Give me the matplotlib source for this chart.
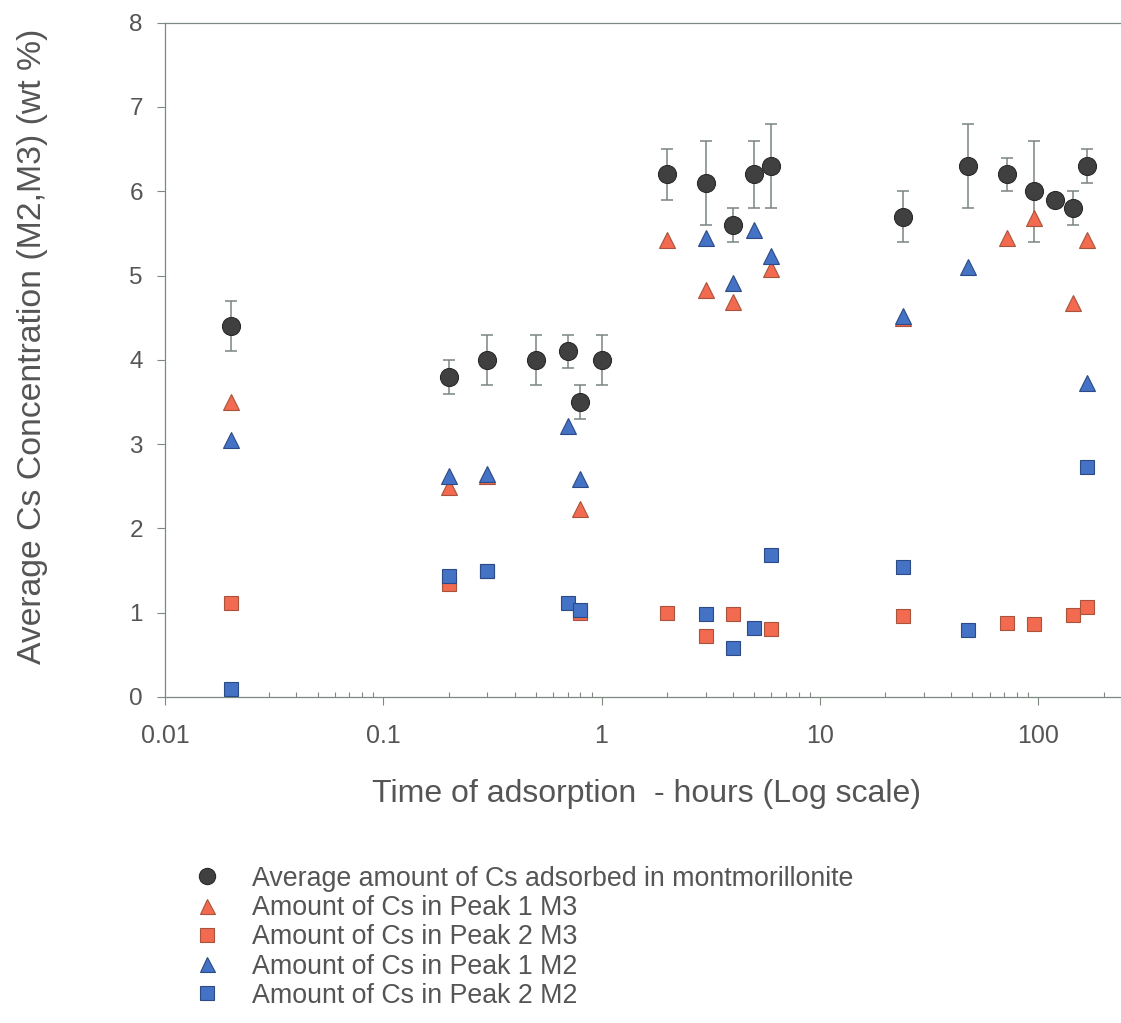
import matplotlib
matplotlib.use("Agg")
import matplotlib.pyplot as plt
from matplotlib.ticker import FixedLocator, FuncFormatter, LogLocator, NullFormatter

plt.rcParams['font.family'] = ['Liberation Sans', 'DejaVu Sans']

# Average Cs adsorbed in montmorillonite (wt %) with error bars
t_avg = [0.02, 0.2, 0.3, 0.5, 0.7, 0.8, 1, 2, 3, 4, 5, 6, 24, 48, 72, 96, 120, 144, 168]
cs_avg = [4.4, 3.8, 4.0, 4.0, 4.1, 3.5, 4.0, 6.2, 6.1, 5.6, 6.2, 6.3, 5.7, 6.3, 6.2, 6.0, 5.9, 5.8, 6.3]
cs_err = [0.3, 0.2, 0.3, 0.3, 0.2, 0.2, 0.3, 0.3, 0.5, 0.2, 0.4, 0.5, 0.3, 0.5, 0.2, 0.6, 0.0, 0.2, 0.2]

# Sample M3
t_m3 = [0.02, 0.2, 0.3, 0.8, 2, 3, 4, 6, 24, 72, 96, 144, 168]
peak1_m3 = [3.50, 2.49, 2.62, 2.23, 5.42, 4.83, 4.69, 5.08, 4.50, 5.45, 5.68, 4.68, 5.42]
peak2_m3 = [1.11, 1.34, 1.49, 1.00, 1.00, 0.72, 0.99, 0.81, 0.96, 0.88, 0.87, 0.97, 1.07]

# Sample M2
t_m2 = [0.02, 0.2, 0.3, 0.7, 0.8, 3, 4, 5, 6, 24, 48, 168]
peak1_m2 = [3.05, 2.62, 2.64, 3.21, 2.59, 5.44, 4.91, 5.54, 5.23, 4.52, 5.10, 3.73]
peak2_m2 = [0.09, 1.43, 1.50, 1.12, 1.03, 0.99, 0.58, 0.82, 1.68, 1.54, 0.79, 2.73]

x_ticks = [0.01, 0.1, 1, 10, 100]
y_ticks = [0, 1, 2, 3, 4, 5, 6, 7, 8]

labels = [
    "Average amount of Cs adsorbed in montmorillonite",
    "Amount of Cs in Peak 1 M3",
    "Amount of Cs in Peak 2 M3",
    "Amount of Cs in Peak 1 M2",
    "Amount of Cs in Peak 2 M2",
]

text_col = '#555555'
axis_col = '#7d8a82'
orange, orange_edge = '#F26A4F', '#A9523C'
blue, blue_edge = '#4472C4', '#2C4A85'
dark, dark_edge = '#404040', '#2a2a2a'

fig = plt.figure(figsize=(11.21, 10.23), dpi=100)
ax = fig.add_axes([0.1472, 0.3187, 0.8528, 0.6591])

circle_style = dict(marker='o', ms=13, mfc=dark, mec=dark_edge, mew=0.8)
ax.errorbar(t_avg, cs_avg, yerr=cs_err, fmt='none', ecolor='#7a857e',
            elinewidth=1.1, capsize=4.3, capthick=1.1, zorder=3)
ax.plot(t_avg, cs_avg, ls='none', label=labels[0], zorder=3.5, **circle_style)
ax.plot(t_m3, peak1_m3, '^', ms=12, mfc=orange, mec=orange_edge, mew=0.8,
        ls='none', label=labels[1], zorder=4)
ax.plot(t_m3, peak2_m3, 's', ms=10.5, mfc=orange, mec=orange_edge, mew=0.8,
        ls='none', label=labels[2], zorder=4)
ax.plot(t_m2, peak1_m2, '^', ms=12, mfc=blue, mec=blue_edge, mew=0.8,
        ls='none', label=labels[3], zorder=5)
ax.plot(t_m2, peak2_m2, 's', ms=10.5, mfc=blue, mec=blue_edge, mew=0.8,
        ls='none', label=labels[4], zorder=5)

ax.set_xscale('log')
ax.set_xlim(0.01, 240)
ax.set_ylim(0, 8)

ax.xaxis.set_major_locator(FixedLocator(x_ticks))
ax.xaxis.set_major_formatter(FuncFormatter(lambda v, p: f"{v:g}"))
ax.xaxis.set_minor_locator(LogLocator(base=10, subs=range(2, 10), numticks=20))
ax.xaxis.set_minor_formatter(NullFormatter())
ax.yaxis.set_major_locator(FixedLocator(y_ticks))

ax.tick_params(axis='x', which='major', direction='out', length=6, width=0.8,
               color=axis_col, labelsize=18, labelcolor=text_col, pad=13.5)
ax.tick_params(axis='x', which='minor', direction='in', length=3.5, width=0.8,
               color=axis_col)
ax.tick_params(axis='y', which='major', direction='out', length=6, width=0.8,
               color=axis_col, labelsize=17.5, labelcolor=text_col, pad=10)

for side in ('left', 'bottom', 'top'):
    ax.spines[side].set_color(axis_col)
    ax.spines[side].set_linewidth(0.9)
ax.spines['right'].set_visible(False)

ax.set_xlabel("Time of adsorption  - hours (Log scale)", fontsize=23, color=text_col)
ax.xaxis.set_label_coords(0.504, -0.122)
ax.set_ylabel("Average Cs Concentration (M2,M3) (wt %)", fontsize=24.3, color=text_col)
ax.yaxis.set_label_coords(-0.122, 0.52)

# Legend in the order of the series list
handles, names = ax.get_legend_handles_labels()
order = [names.index(lbl) for lbl in labels]
fig.legend([handles[i] for i in order], [names[i] for i in order],
           loc='upper left', bbox_to_anchor=(0.1713, 0.1536), frameon=False,
           fontsize=19.3, labelcolor=text_col, handletextpad=1.12,
           handlelength=1.12, labelspacing=0.12, borderaxespad=0,
           borderpad=0, markerscale=0.9)

fig.savefig('out.png', dpi=100)
